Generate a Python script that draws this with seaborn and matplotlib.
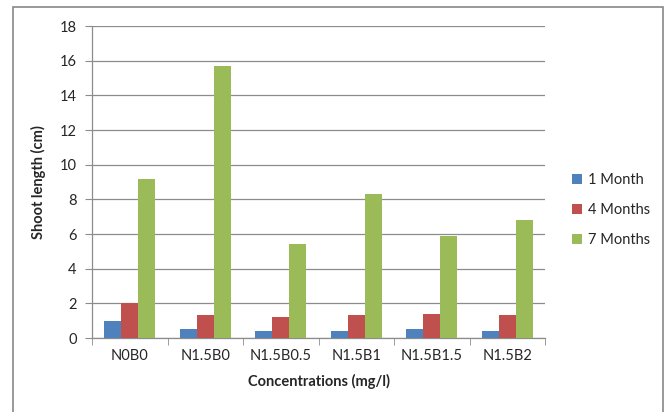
import matplotlib
matplotlib.use("Agg")
import matplotlib.pyplot as plt
import matplotlib.patches as mpatches
import seaborn as sns
import pandas as pd
import numpy as np

concentrations = ["N0B0", "N1.5B0", "N1.5B0.5", "N1.5B1", "N1.5B1.5", "N1.5B2"]
month1 = [1.0, 0.5, 0.4, 0.4, 0.5, 0.4]
month4 = [2.0, 1.3, 1.2, 1.3, 1.4, 1.3]
month7 = [9.2, 15.7, 5.4, 8.3, 5.9, 6.8]
series = ["1 Month", "4 Months", "7 Months"]
colors = ["#4F81BD", "#C0504D", "#9BBB59"]

df = pd.DataFrame({
    "conc": concentrations * 3,
    "value": month1 + month4 + month7,
    "period": [s for s in series for _ in concentrations],
})

sns.set_style("white")
plt.rcParams["font.family"] = ["Lato", "DejaVu Sans"]

fig = plt.figure(figsize=(6.67, 4.12), dpi=100)
ax = fig.add_axes([92 / 667, 1 - 338 / 412, (545 - 92) / 667, (338 - 26) / 412])

sns.barplot(data=df, x="conc", y="value", hue="period", palette=colors,
            width=0.68, gap=0, saturation=1, ax=ax, zorder=3, edgecolor="none")

ax.set_ylim(0, 18)
ax.set_xlim(-0.5, 5.5)
ax.set_yticks(np.arange(0, 19, 2))
ax.yaxis.grid(True, color="#8c8c8c", linewidth=0.9, zorder=0)
ax.set_axisbelow(True)
for side in ["top", "right"]:
    ax.spines[side].set_visible(False)
for side in ["left", "bottom"]:
    ax.spines[side].set_color("#8c8c8c")
    ax.spines[side].set_linewidth(0.9)

ax.set_xticks(np.arange(-0.5, 6, 1), minor=True)
ax.tick_params(axis="x", which="major", length=0, labelsize=10.5, pad=8)
ax.tick_params(axis="x", which="minor", length=5, color="#8c8c8c", bottom=True)
ax.tick_params(axis="y", length=5, color="#8c8c8c", left=True, labelsize=10.5, pad=6)

ax.set_xlabel("Concentrations (mg/l)", fontsize=10.5, fontweight="bold", labelpad=8)
ax.set_ylabel("Shoot length (cm)", fontsize=10.5, fontweight="bold", labelpad=10)

ax.legend(loc="center left", bbox_to_anchor=(1.03, 0.41), frameon=False,
          fontsize=10.5, handlelength=0.7, handleheight=0.7, labelspacing=1.1,
          handletextpad=0.4)

fig.patches.append(mpatches.Rectangle((13 / 667, -0.1), (663 - 13) / 667, 1.1 - 7 / 412,
                                      transform=fig.transFigure, fill=False,
                                      edgecolor="#888888", linewidth=1.2))

fig.savefig("out.png", dpi=100)
